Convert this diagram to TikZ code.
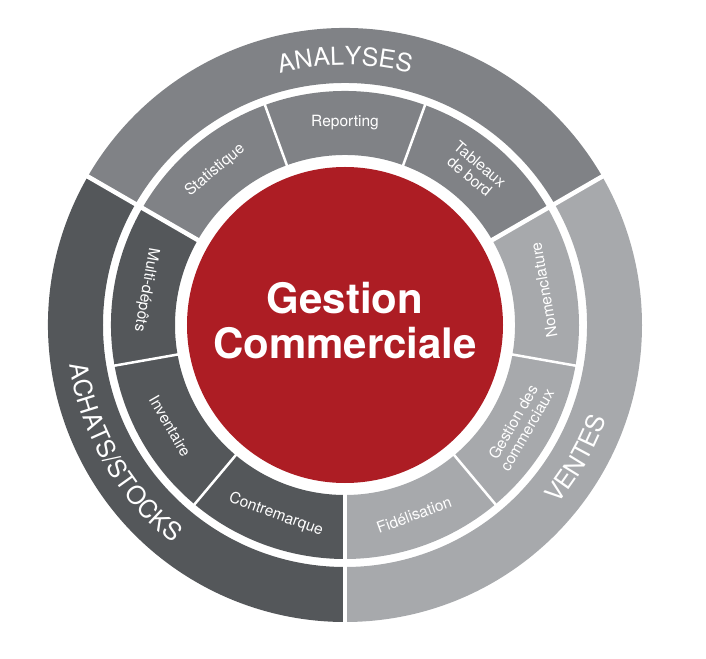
\documentclass[tikz,border=0pt]{standalone}
\usepackage{fontspec}
\setmainfont{TeX Gyre Heros}
\usepackage{xcolor}
\usetikzlibrary{decorations.text}
\definecolor{gcred}{RGB}{173,29,36}
\definecolor{gcmid}{RGB}{128,130,134}
\definecolor{gcdark}{RGB}{84,87,90}
\definecolor{gclight}{RGB}{167,169,172}
\newcommand\ringpart[5]{\fill[#1](#2:#5)arc(#2:#3:#5)--(#3:#4)arc(#3:#2:#4)--cycle;}
\newcommand\ringtext[4]{\path[decorate,decoration={text along path,text align=center,
  text={|\color{white}\fontsize{25}{25}\selectfont|#4}}](#1:#3)arc(#1:#2:#3);}

\begin{document}
\begin{tikzpicture}[x=1pt,y=1pt,
  lab/.style={text=white,font=\fontsize{15.5}{16}\selectfont,align=center,inner sep=0pt},
  sep/.style={white,line width=4.5pt},
  subsep/.style={white,line width=2.5pt}]
\useasboundingbox(-345,-333)rectangle(361,325);
\ringpart{gcmid}{30}{150}{242}{297}\ringpart{gcdark}{150}{270}{242}{297}\ringpart{gclight}{-90}{30}{242}{297}
\ringpart{gcmid}{30}{150}{170}{234}\ringpart{gcdark}{150}{270}{170}{234}\ringpart{gclight}{-90}{30}{170}{234}
\foreach \a in {70,110,190,230,-10,-50}\draw[subsep](\a:166)--(\a:238);
\foreach \a in {30,150,270}\draw[sep](\a:166)--(\a:300);
\node[circle,fill=gcred,minimum size=316pt,inner sep=0pt](core)at(0,0){};
\node[text=white,font=\fontsize{42}{45}\selectfont\bfseries,align=center](title)at(0,4){Gestion\\Commerciale};
\ringtext{150}{30}{260}{ANALYSES}
\ringtext{150}{270}{278}{ACHATS/STOCKS}
\ringtext{-90}{30}{278}{VENTES}
\node[lab](rep)at(90:202){Reporting};
\node[lab,rotate=40](stat)at(130:202){Statistique};
\node[lab,rotate=-40](tab)at(50:202){Tableaux\\de bord};
\node[lab,rotate=260](multi)at(170:202){Multi-dépôts};
\node[lab,rotate=300](inv)at(210:202){Inventaire};
\node[lab,rotate=340](contre)at(250:202){Contremarque};
\node[lab,rotate=20](fid)at(290:202){Fidélisation};
\node[lab,rotate=60](gest)at(330:202){Gestion des\\commerciaux};
\node[lab,rotate=100](nomen)at(10:202){Nomenclature};
\end{tikzpicture}
\end{document}
